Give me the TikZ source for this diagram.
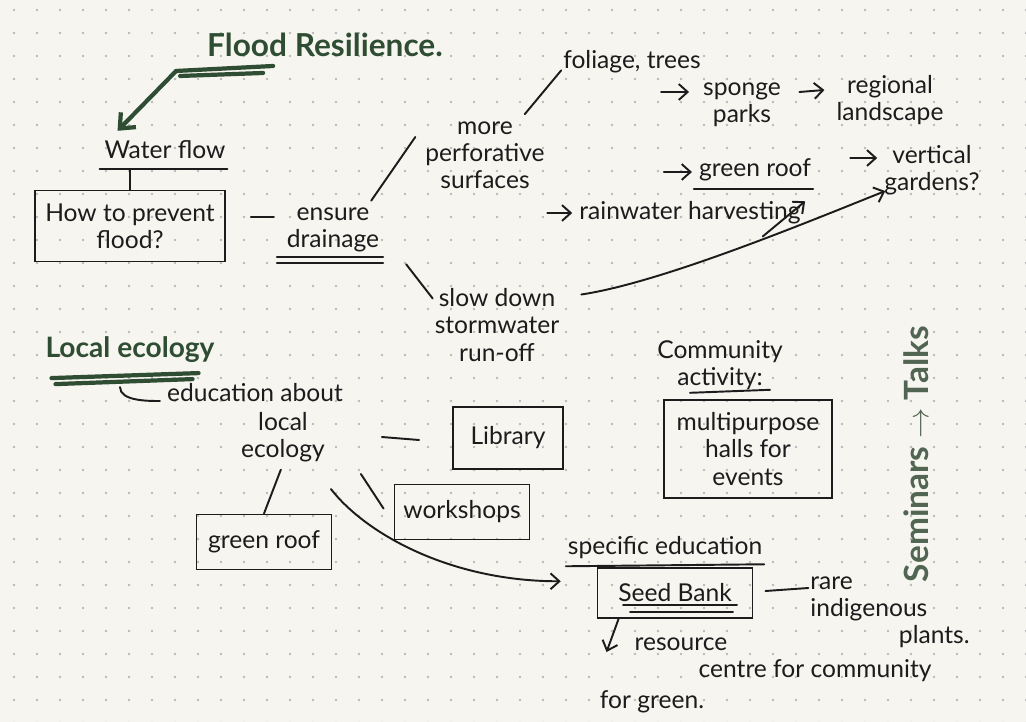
\documentclass[tikz,border=0pt]{standalone}
\usepackage{fontspec}
\setmainfont{Lato}
\usetikzlibrary{arrows.meta, positioning, calc}

\definecolor{paper}{HTML}{F7F5F0}
\definecolor{ink}{HTML}{1C1C1C}
\definecolor{leaf}{HTML}{2E4D33}
\definecolor{fade}{HTML}{526552}

\begin{document}
\begin{tikzpicture}[
    x=0.02cm, y=-0.02cm,
    font=\fontsize{14}{15.5}\selectfont,
    % Define styles
    note/.style={
        text=ink,
        align=center,
        inner sep=1pt
    },
    heading/.style={
        text=leaf,
        font=\fontsize{16}{19}\selectfont\bfseries,
        inner sep=1pt
    },
    box/.style={
        rectangle,
        draw=ink,
        text=ink,
        align=center,
        line width=1.1pt
    },
    link/.style={
        draw,
        ink,
        line width=1.1pt,
        line cap=round
    },
    arrowline/.style={
        link,
        -{Straight Barb[length=5pt,width=9pt]}
    },
    greenline/.style={
        draw,
        leaf,
        line width=2.4pt,
        line cap=round
    }
]

% Paper with dot grid
\useasboundingbox (0,0) rectangle (1026,722);
\fill[paper] (0,0) rectangle (1026,722);
\foreach \gx in {0,...,44}
    \foreach \gy in {0,...,31}
        \fill[gray!55] (14+23*\gx, 10+23*\gy) circle[radius=0.8pt];

% Place nodes
% Flood resilience
\node[heading, font=\fontsize{18}{21}\selectfont\bfseries] (flood) at (325,45) {Flood Resilience.};
\node[note] (water) at (165,150) {Water flow};
\node[box, minimum width=3.8cm, minimum height=1.42cm] (prevent) at (130,226) {How to prevent\\flood?};
\node[note] (ensure) at (333,230) {ensure\\drainage};
\node[note] (perf) at (485,155) {more\\perforative\\surfaces};
\node[note] (foliage) at (632,62) {foliage, trees};
\node[note] (sponge) at (742,105) {sponge\\parks};
\node[note] (region) at (890,100) {regional\\landscape};
\node[note] (roofa) at (755,170) {green roof};
\node[note] (vertical) at (932,170) {vertical\\gardens?};
\node[note] (rain) at (690,213) {rainwater harvesting};
\node[note] (slow) at (497,325) {slow down\\stormwater\\run-off};

% Local ecology
\node[heading] (local) at (130,350) {Local ecology};
\node[note] (edu) at (255,393) {education about};
\node[note] (ecol) at (283,437) {local\\ecology};
\node[box, minimum width=2.2cm, minimum height=1.24cm] (library) at (508,438) {Library};
\node[box, minimum width=2.7cm, minimum height=1.1cm] (workshop) at (462,512) {workshops};
\node[box, minimum width=2.7cm, minimum height=1.1cm] (roofb) at (264,542) {green roof};
\node[note] (spec) at (665,548) {specific education};
\node[box, minimum width=3.1cm, minimum height=1cm] (seed) at (675,593) {Seed Bank};
\node[note, align=left] (rare) at (890,612) {rare\\indigenous\\\hspace*{3.6em}plants.};
\node[note, align=left] (res) at (783,660) {resource\\\hspace*{2.6em}centre for community};
\node[note] (green) at (652,702) {for green.};

% Community
\node[note] (comm) at (720,365) {Community\\activity:};
\node[box, minimum width=3.35cm, minimum height=1.95cm] (halls) at (748,449) {multipurpose\\halls for\\events};
\node[note, text=fade, rotate=90, font=\fontsize{19}{21}\selectfont\bfseries] (talks) at (916,454) {Seminars $\rightarrow$ Talks};

% Draw edges
% Headings
\path[greenline] ($(flood.south west)+(-29,12)$) coordinate (fu) -- ($(flood.south west)+(68,7)$);
\path[greenline] ($(flood.south west)+(-25,17)$) -- ($(flood.south west)+(58,14)$);
\path[greenline, -{Straight Barb[length=7pt,width=12pt]}] (fu) -- ($(water.north west)+(15,-8)$);
\path[greenline] ($(local.south west)+(8,13)$) -- ($(local.south east)+(-18,8)$);
\path[greenline] ($(local.south west)+(12,19)$) -- ($(local.south east)+(-24,14)$);

% Flood flow
\path[link] ($(water.south west)+(-3,8)$) -- ($(water.south east)+(0,8)$);
\path[link] (prevent.north) -- ($(prevent.north |- water.south)+(0,8)$);
\path[link] ($(prevent.east)+(25,-9)$) -- ($(prevent.east)+(48,-9)$);
\path[link] ($(ensure.south west)+(-8,3)$) -- ($(ensure.south east)+(2,3)$);
\path[link] ($(ensure.south west)+(-8,9)$) -- ($(ensure.south east)+(2,9)$);
\path[link] ($(ensure.north east)+(-10,-5)$) -- ($(perf.west)+(-8,-18)$);
\path[link] ($(perf.north east)+(-22,-5)$) -- ($(foliage.south west)+(0,-5)$);
\path[arrowline] ($(sponge.west)+(-40,-13)$) -- ($(sponge.west)+(-12,-13)$);
\path[arrowline] ($(region.west)+(-35,-8)$) -- ($(region.west)+(-10,-10)$);
\path[arrowline] ($(roofa.west)+(-33,2)$) -- ($(roofa.west)+(-5,2)$);
\path[link] ($(roofa.south west)+(-3,6)$) -- ($(roofa.south east)+(0,6)$);
\path[arrowline] ($(vertical.west)+(-32,-12)$) -- ($(vertical.west)+(-5,-12)$);
\path[arrowline] ($(rain.west)+(-30,0)$) -- ($(rain.west)+(-5,0)$);
\path[arrowline] ($(rain.south east)+(-40,10)$) -- ($(roofa.south east)+(-8,18)$);
\path[link] ($(ensure.south east)+(25,10)$) -- ($(slow.north west)+(0,12)$);
\path[arrowline] ($(slow.north east)+(20,8)$) .. controls +(80,-12) and +(-80,32) .. ($(vertical.south west)+(3,-6)$);

% Ecology flow
\path[link] ($(local.south)+(-10,22)$) .. controls +(0,14) and +(-12,0) .. ($(edu.west)+(-5,8)$);
\path[link] ($(ecol.east)+(55,0)$) -- ($(library.west)+(-33,2)$);
\path[link] ($(ecol.south east)+(34,10)$) -- ($(workshop.north west)+(-10,25)$);
\path[link, shorten <=0.12cm] (ecol.south) -- (roofb.north);
\path[arrowline] ($(ecol.south east)+(4,25)$) .. controls +(35,45) and +(-110,0) .. ($(spec.south west)+(-5,20)$);
\path[link] ($(spec.south west)+(0,5)$) -- ($(spec.south east)+(0,3)$);
\path[link] ($(seed.center)+(-52,12)$) -- ($(seed.center)+(62,12)$);
\path[link] ($(seed.center)+(-45,19)$) -- ($(seed.center)+(58,19)$);
\path[link] ($(seed.east)+(12,-2)$) -- ($(rare.west)+(0,-24)$);
\path[arrowline] ($(seed.south west)+(22,0)$) -- ($(res.west)+(-26,-8)$);

% Community
\path[link] ($(comm.south)+(-30,1)$) -- ($(comm.south)+(50,-2)$);

\end{tikzpicture}
\end{document}
